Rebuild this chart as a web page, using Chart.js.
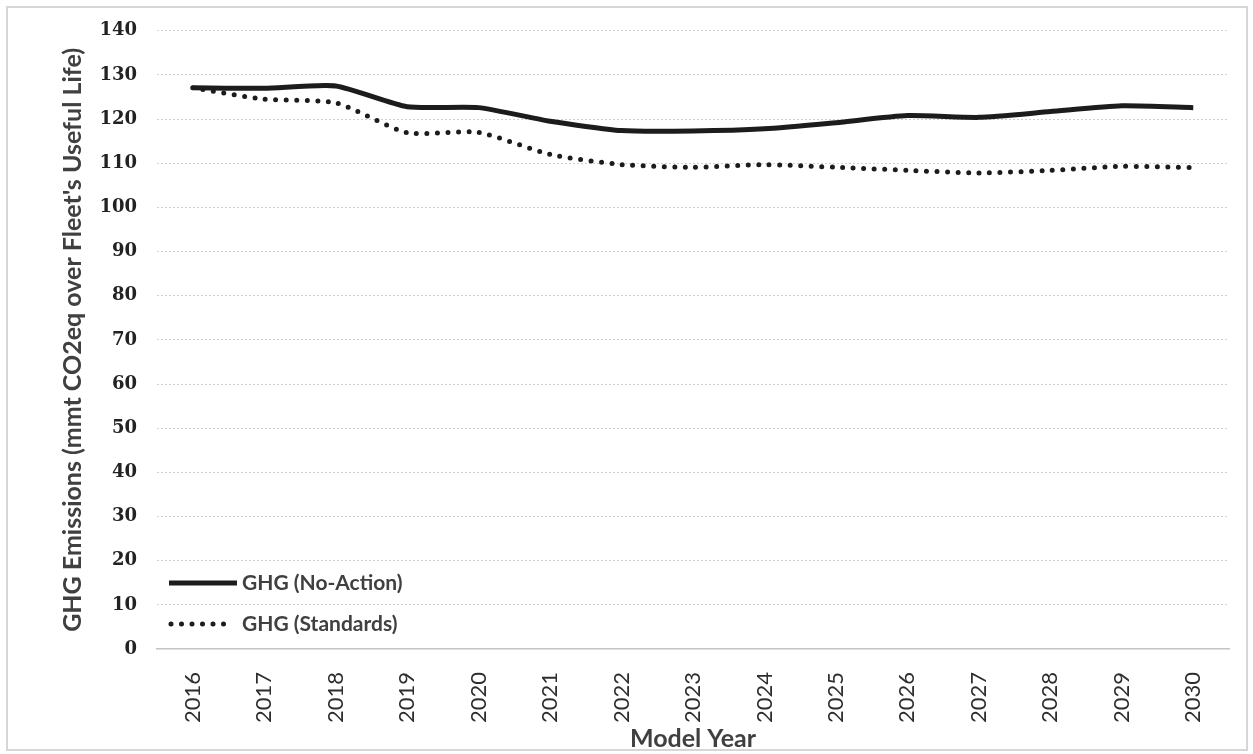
<!DOCTYPE html>
<html>
<head>
<meta charset="utf-8">
<script src="https://cdn.jsdelivr.net/npm/chart.js@4.4.1/dist/chart.umd.min.js"></script>
<style>
  body { margin: 0; background: #fff; }
  #wrap { width: 1253px; height: 754px; position: relative; }
</style>
</head>
<body>
<div id="wrap"><canvas id="ghgChart"></canvas></div>
<script>
var years = ['2016', '2017', '2018', '2019', '2020', '2021', '2022', '2023',
             '2024', '2025', '2026', '2027', '2028', '2029', '2030'];
var noActionValues = [127.1, 127.0, 127.5, 122.8, 122.6, 119.5, 117.4, 117.3,
                      117.8, 119.2, 120.8, 120.4, 121.7, 123.0, 122.6];
var standardsValues = [127.1, 124.5, 123.7, 116.9, 117.0, 112.0, 109.7, 109.1,
                       109.7, 109.1, 108.4, 107.8, 108.4, 109.3, 109.0];
var seriesNames = ['GHG (No-Action)', 'GHG (Standards)'];
var yMin = 0, yMax = 140, yStep = 10;

// white page with the thin grey frame round it
var framePlugin = {
  id: 'frame',
  beforeDraw: function(chart) {
    var ctx = chart.ctx;
    ctx.save();
    ctx.fillStyle = '#fff';
    ctx.fillRect(0, 0, chart.width, chart.height);
    ctx.strokeStyle = '#d6d6d6';
    ctx.lineWidth = 2;
    ctx.strokeRect(7, 7, chart.width - 13, chart.height - 11);
    ctx.restore();
  }
};

// legend sits inside the plot, bottom left
var insideLegend = {
  id: 'insideLegend',
  afterDatasetsDraw: function(chart) {
    var ctx = chart.ctx;
    var rows = [583, 624];
    var lineEnds = [237, 228];
    chart.data.datasets.forEach(function(ds, i) {
      ctx.save();
      ctx.strokeStyle = ds.borderColor;
      ctx.lineWidth = ds.borderWidth;
      ctx.lineCap = ds.borderCapStyle || 'butt';
      ctx.setLineDash(ds.borderDash || []);
      ctx.beginPath();
      ctx.moveTo(i === 0 ? 169 : 171, rows[i]);
      ctx.lineTo(lineEnds[i], rows[i]);
      ctx.stroke();
      ctx.setLineDash([]);
      ctx.fillStyle = '#404040';
      ctx.font = 'bold 21px Lato';
      ctx.textBaseline = 'middle';
      ctx.textAlign = 'left';
      ctx.fillText(ds.label, 242, rows[i]);
      ctx.restore();
    });
  }
};

var ctx = document.getElementById('ghgChart').getContext('2d');
var chart = new Chart(ctx, {
  type: 'line',
  data: {
    labels: years,
    datasets: [{
      label: seriesNames[0],
      data: noActionValues,
      borderColor: '#1c1c1c',
      borderWidth: 5,
      pointRadius: 0,
      tension: 0.2,
      fill: false
    }, {
      label: seriesNames[1],
      data: standardsValues,
      borderColor: '#1c1c1c',
      borderWidth: 5,
      borderDash: [0, 10.5],
      borderCapStyle: 'round',
      pointRadius: 0,
      tension: 0.2,
      fill: false
    }]
  },
  options: {
    responsive: true,
    maintainAspectRatio: false,
    animation: false,
    devicePixelRatio: 1,
    layout: {
      padding: { left: 40, right: 24, top: 26, bottom: 0 }
    },
    plugins: {
      legend: { display: false },
      tooltip: { enabled: false }
    },
    scales: {
      x: {
        type: 'category',
        offset: true,
        grid: { display: false },
        border: { display: true, color: '#c4c4c4', width: 1.5 },
        ticks: {
          minRotation: 90,
          maxRotation: 90,
          padding: 15,
          color: '#2e2e2e',
          font: { family: 'Lato', size: 22 }
        },
        title: {
          display: true,
          text: 'Model Year',
          color: '#404040',
          font: { family: 'Lato', size: 25, weight: 'bold' },
          padding: { top: 1, bottom: 0 }
        },
        afterFit: function(scale) { scale.height = 105; }
      },
      y: {
        min: yMin,
        max: yMax,
        ticks: {
          stepSize: yStep,
          padding: 20,
          color: '#222',
          font: { family: 'DejaVu Serif', size: 18, weight: 'bold' }
        },
        grid: {
          drawTicks: false,
          lineWidth: 1,
          color: function(c) {
            return c.tick && c.tick.value === 0 ? 'rgba(0,0,0,0)' : '#cfcfcf';
          }
        },
        border: { display: false, dash: [2, 2] },
        title: {
          display: true,
          text: "GHG Emissions (mmt CO2eq over Fleet's Useful Life)",
          color: '#404040',
          font: { family: 'Lato', size: 25, weight: 'bold' },
          padding: { top: 18, bottom: 0 }
        },
        afterFit: function(scale) { scale.width = 117; }
      }
    }
  },
  plugins: [framePlugin, insideLegend]
});
</script>
</body>
</html>
